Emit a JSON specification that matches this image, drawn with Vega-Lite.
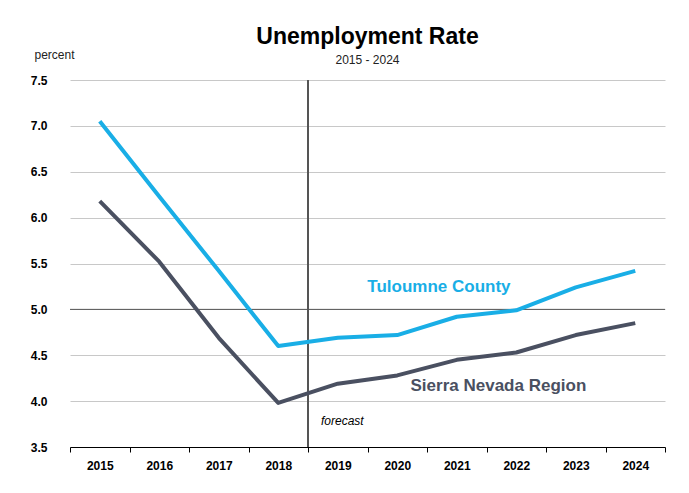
{
  "$schema": "https://vega.github.io/schema/vega-lite/v6.json",
  "width": 595,
  "height": 367,
  "autosize": {"type": "none"},
  "padding": {"left": 70, "top": 80, "right": 24, "bottom": 46},
  "background": "white",
  "title": {
    "text": "Unemployment Rate",
    "subtitle": "2015 - 2024",
    "font": "Liberation Sans",
    "fontSize": 23,
    "fontWeight": "bold",
    "color": "black",
    "subtitleFont": "Liberation Sans",
    "subtitleFontSize": 12,
    "subtitleColor": "#222",
    "subtitlePadding": 6,
    "anchor": "middle",
    "offset": -18
  },
  "config": {
    "view": {"stroke": null},
    "axis": {"labelFont": "Liberation Sans", "titleFont": "Liberation Sans"}
  },
  "datasets": {
    "rates": [
      {"year": 2015, "series": "Tuloumne County", "rate": 7.05},
      {"year": 2016, "series": "Tuloumne County", "rate": 6.23},
      {"year": 2017, "series": "Tuloumne County", "rate": 5.42},
      {"year": 2018, "series": "Tuloumne County", "rate": 4.6},
      {"year": 2019, "series": "Tuloumne County", "rate": 4.69},
      {"year": 2020, "series": "Tuloumne County", "rate": 4.72},
      {"year": 2021, "series": "Tuloumne County", "rate": 4.92},
      {"year": 2022, "series": "Tuloumne County", "rate": 4.99},
      {"year": 2023, "series": "Tuloumne County", "rate": 5.24},
      {"year": 2024, "series": "Tuloumne County", "rate": 5.42},
      {"year": 2015, "series": "Sierra Nevada Region", "rate": 6.18},
      {"year": 2016, "series": "Sierra Nevada Region", "rate": 5.52},
      {"year": 2017, "series": "Sierra Nevada Region", "rate": 4.69},
      {"year": 2018, "series": "Sierra Nevada Region", "rate": 3.98},
      {"year": 2019, "series": "Sierra Nevada Region", "rate": 4.19},
      {"year": 2020, "series": "Sierra Nevada Region", "rate": 4.28},
      {"year": 2021, "series": "Sierra Nevada Region", "rate": 4.45},
      {"year": 2022, "series": "Sierra Nevada Region", "rate": 4.53},
      {"year": 2023, "series": "Sierra Nevada Region", "rate": 4.72},
      {"year": 2024, "series": "Sierra Nevada Region", "rate": 4.85}
    ],
    "labels": [
      {"year": 2021, "rate": 5.24, "label": "Tuloumne County", "series": "Tuloumne County"},
      {"year": 2022, "rate": 4.17, "label": "Sierra Nevada Region", "series": "Sierra Nevada Region"}
    ],
    "forecast": [
      {"year": 2018, "rate": 3.78, "label": "forecast"}
    ],
    "ref": [
      {"rate": 5.0}
    ]
  },
  "encoding": {
    "x": {
      "field": "year",
      "type": "ordinal",
      "scale": {"type": "band", "paddingInner": 0, "paddingOuter": 0, "domain": [2015, 2016, 2017, 2018, 2019, 2020, 2021, 2022, 2023, 2024]},
      "axis": {
        "title": null,
        "labelAngle": 0,
        "labelFontSize": 12,
        "labelFontWeight": "bold",
        "labelColor": "black",
        "labelPadding": 8,
        "domainColor": "black",
        "domainWidth": 1,
        "tickColor": "black",
        "tickSize": 5,
        "tickBand": "extent",
        "grid": false
      }
    }
  },
  "layer": [
    {
      "data": {"name": "ref"},
      "mark": {"type": "rule", "color": "#555555", "strokeWidth": 1},
      "encoding": {
        "x": null,
        "y": {"field": "rate", "type": "quantitative", "scale": {"domain": [3.5, 7.5]}}
      }
    },
    {
      "data": {"name": "forecast"},
      "mark": {"type": "rule", "color": "#555555", "strokeWidth": 2},
      "encoding": {
        "x": {"field": "year", "type": "ordinal", "bandPosition": 1}
      }
    },
    {
      "data": {"name": "forecast"},
      "mark": {"type": "text", "font": "Liberation Sans", "fontSize": 12, "fontStyle": "italic", "align": "left", "baseline": "middle", "dx": 13, "color": "black"},
      "encoding": {
        "x": {"field": "year", "type": "ordinal", "bandPosition": 1},
        "y": {"field": "rate", "type": "quantitative"},
        "text": {"field": "label"}
      }
    },
    {
      "data": {"name": "rates"},
      "mark": {"type": "line", "strokeWidth": 4, "strokeJoin": "round"},
      "encoding": {
        "x": {"field": "year", "type": "ordinal", "bandPosition": 0.5},
        "y": {
          "field": "rate",
          "type": "quantitative",
          "scale": {"domain": [3.5, 7.5], "nice": false, "zero": false},
          "axis": {
            "values": [3.5, 4, 4.5, 5, 5.5, 6, 6.5, 7, 7.5],
            "format": ".1f",
            "title": "percent",
            "titleAngle": 0,
            "titleAlign": "left",
            "titleBaseline": "middle",
            "titleX": -36,
            "titleY": -26,
            "titleFontSize": 12,
            "titleFontWeight": "normal",
            "titleColor": "#222",
            "labelFontSize": 12,
            "labelFontWeight": "bold",
            "labelColor": "black",
            "labelPadding": 23,
            "domain": false,
            "ticks": false,
            "grid": true,
            "gridColor": "#C8C8C8",
            "gridWidth": 1
          }
        },
        "color": {
          "field": "series",
          "type": "nominal",
          "scale": {"domain": ["Tuloumne County", "Sierra Nevada Region"], "range": ["#19AEE6", "#4A5061"]},
          "legend": null
        }
      }
    },
    {
      "data": {"name": "labels"},
      "mark": {"type": "text", "font": "Liberation Sans", "fontSize": 17, "fontWeight": "bold", "align": "center", "baseline": "middle"},
      "encoding": {
        "x": {"field": "year", "type": "ordinal", "bandPosition": 0.2},
        "y": {"field": "rate", "type": "quantitative"},
        "text": {"field": "label"},
        "color": {"field": "series", "type": "nominal", "legend": null}
      }
    }
  ]
}
